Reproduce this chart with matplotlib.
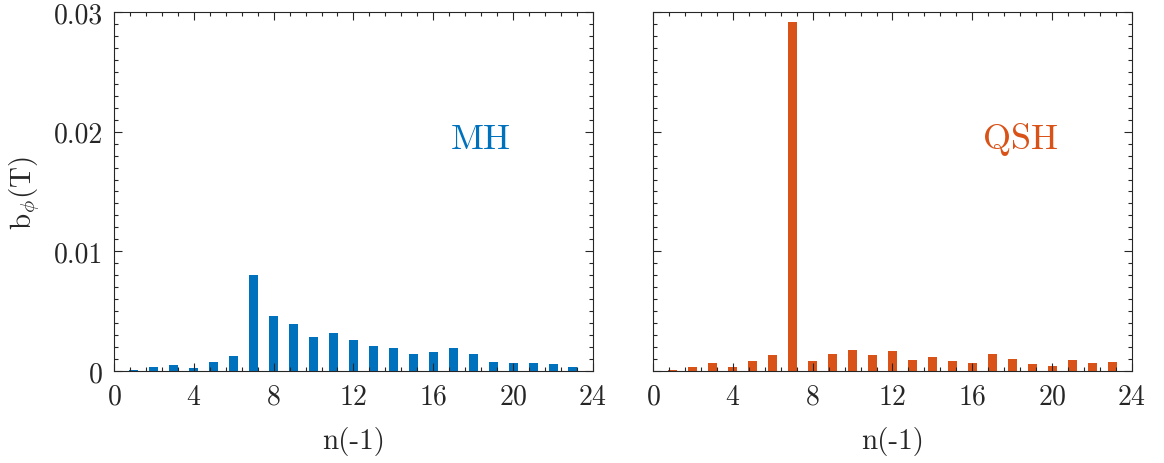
import matplotlib
matplotlib.use("Agg")
import matplotlib.pyplot as plt
import numpy as np
from matplotlib.ticker import MultipleLocator, FuncFormatter

plt.rcParams['font.family'] = 'serif'
plt.rcParams['font.serif'] = ['cmr10', 'DejaVu Serif']
plt.rcParams['mathtext.fontset'] = 'cm'
plt.rcParams['axes.formatter.use_mathtext'] = True

n = np.arange(1, 24)
b_mh = [0.00005, 0.00035, 0.0005, 0.00025, 0.00075, 0.00125, 0.00806, 0.0046,
        0.0039, 0.0028, 0.00317, 0.00255, 0.00208, 0.0019, 0.00143, 0.0016,
        0.0019, 0.00145, 0.00075, 0.0007, 0.0007, 0.00058, 0.00035]
b_qsh = [0.00005, 0.0003, 0.0007, 0.00037, 0.00084, 0.00137, 0.0292, 0.0008,
         0.0014, 0.00178, 0.00136, 0.00167, 0.00095, 0.00117, 0.00084, 0.0007,
         0.0014, 0.00097, 0.00055, 0.00045, 0.00092, 0.0007, 0.00078]
labels = ['MH', 'QSH']
colors = ['#0072BD', '#D95319']

fig = plt.figure(figsize=(11.64, 4.64), dpi=100)
ax1 = fig.add_axes([0.0979, 0.1983, 0.4115, 0.7737])
ax2 = fig.add_axes([0.561, 0.1983, 0.4115, 0.7737])

axcol = '#262626'
for ax, vals, lab, c in zip([ax1, ax2], [b_mh, b_qsh], labels, colors):
    ax.bar(n, vals, width=0.45, color=c)
    ax.set_xlim(0, 24)
    ax.set_ylim(0, 0.03)
    ax.xaxis.set_major_locator(MultipleLocator(4))
    ax.xaxis.set_minor_locator(MultipleLocator(0.8))
    ax.yaxis.set_major_locator(MultipleLocator(0.01))
    ax.yaxis.set_minor_locator(MultipleLocator(0.001))
    ax.yaxis.set_major_formatter(FuncFormatter(lambda v, p: '%g' % round(v, 4)))
    ax.tick_params(which='both', direction='in', top=True, right=True,
                   colors=axcol, labelsize=20, width=0.8)
    ax.tick_params(axis='x', pad=9)
    ax.tick_params(axis='y', pad=8)
    ax.tick_params(which='major', length=6)
    ax.tick_params(which='minor', length=3)
    for s in ax.spines.values():
        s.set_color(axcol)
        s.set_linewidth(0.8)
    ax.set_xlabel('n(-1)', fontsize=21, color=axcol, labelpad=12)
    ax.text(18.4, 0.0194, lab, color=c, fontsize=26, ha='center', va='center')

ax2.tick_params(labelleft=False)
ax1.set_ylabel(r'b$_\phi$(T)', fontsize=21, color=axcol, labelpad=8)

fig.savefig('out.png', dpi=100)
